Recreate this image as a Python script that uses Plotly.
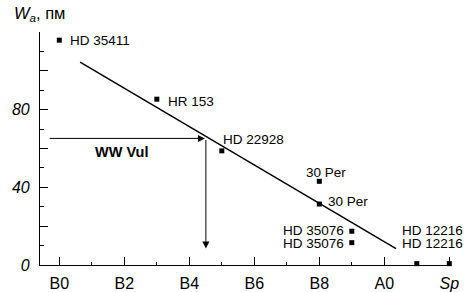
import plotly.graph_objects as go

# Spectral subclass index: B0=0 ... B9=9, A0=10, A1=11, Sp=12
star_names = ["HD 35411", "HR 153", "HD 22928", "30 Per", "30 Per",
              "HD 35076", "HD 35076", "HD 12216", "HD 12216"]
star_x = [0, 3, 5, 8, 8, 9, 9, 11, 12]
star_w = [115.8, 85.4, 58.8, 43.1, 31.4, 17.4, 11.5, 0.7, 0.7]

fit_x = [0.64, 10.36]
fit_w = [104.5, 8.4]

ww_vul_sp = 4.51
ww_vul_w = 65.2
arrow_start_x = -0.34
arrow_end_w = 8.5

x_tickvals = [0, 2, 4, 6, 8, 10, 12]
x_ticktext = ["B0", "B2", "B4", "B6", "B8", "A0", "<i>Sp</i>"]
y_tickvals = [0, 20, 40, 60, 80, 100, 120]
y_ticktext = ["<i>0</i>", " ", "<i>40</i>", " ", "<i>80</i>", " ", " "]

FONT = "Liberation Sans, Arial, sans-serif"

fig = go.Figure()
fig.add_trace(go.Scatter(x=fit_x, y=fit_w, mode="lines",
                         line=dict(color="black", width=1.5),
                         hoverinfo="skip", showlegend=False))
fig.add_trace(go.Scatter(x=star_x, y=star_w, mode="markers",
                         marker=dict(symbol="square", size=5, color="black"),
                         cliponaxis=False, showlegend=False))

# label placement (x in subclass units, y in pm, anchors)
label_pos = [
    (0.27, 115.8, "left"),
    (3.27, 84.2, "left"),
    (4.99, 64.8, "left"),
    (8.2, 47.6, "center"),
    (8.2, 32.7, "left"),
    (8.82, 17.6, "right"),
    (8.82, 10.9, "right"),
    (10.48, 18.0, "left"),
    (10.48, 10.9, "left"),
]
for name, (lx, ly, anc) in zip(star_names, label_pos):
    fig.add_annotation(x=lx, y=ly, text=name, showarrow=False,
                       xanchor=anc, yanchor="middle",
                       font=dict(family=FONT, size=13.5, color="black"))

# WW Vul arrows
fig.add_annotation(x=ww_vul_sp - 0.03, y=ww_vul_w, ax=arrow_start_x, ay=ww_vul_w,
                   xref="x", yref="y", axref="x", ayref="y", text="",
                   showarrow=True, arrowhead=2, arrowsize=1.4, arrowwidth=1,
                   arrowcolor="black", standoff=0)
fig.add_annotation(x=ww_vul_sp, y=arrow_end_w, ax=ww_vul_sp, ay=ww_vul_w,
                   xref="x", yref="y", axref="x", ayref="y", text="",
                   showarrow=True, arrowhead=2, arrowsize=1.4, arrowwidth=1,
                   arrowcolor="black", standoff=0)
fig.add_annotation(x=1.03, y=58.3, text="<b>WW Vul</b>", showarrow=False,
                   xanchor="left", yanchor="middle",
                   font=dict(family=FONT, size=14.5, color="black"))

# axis title
fig.add_annotation(xref="paper", yref="paper", x=-0.068, y=1.0, yshift=18,
                   text="<i>W<sub>a</sub></i>, пм", showarrow=False,
                   xanchor="left", yanchor="middle",
                   font=dict(family=FONT, size=16.5, color="black"))

fig.update_xaxes(range=[-0.594, 12.052], showline=True, linecolor="black", linewidth=1.2,
                 ticks="inside", ticklen=8, tickwidth=1.2, tickcolor="black",
                 tickvals=x_tickvals, ticktext=x_ticktext, automargin=False,
                 minor=dict(ticks="inside", ticklen=3, dtick=1, tick0=0,
                            tickcolor="black", tickwidth=1.2),
                 showgrid=False, zeroline=False, ticklabelstandoff=4,
                 tickfont=dict(family=FONT, size=16, color="black"))
fig.update_yaxes(range=[0, 120], showline=True, linecolor="black", linewidth=1.2,
                 ticks="inside", ticklen=8, tickwidth=1.2, tickcolor="black",
                 tickvals=y_tickvals, ticktext=y_ticktext, automargin=False,
                 minor=dict(ticks="inside", ticklen=4, dtick=10, tick0=0,
                            tickcolor="black", tickwidth=1.2),
                 showgrid=False, zeroline=False, ticklabelstandoff=6,
                 tickfont=dict(family=FONT, size=16, color="black"))

fig.update_layout(width=469, height=292,
                  margin=dict(l=40, r=18, t=32, b=27, autoexpand=False),
                  plot_bgcolor="white", paper_bgcolor="white", showlegend=False)
fig.write_html("out.html", config={"displayModeBar": False},
               post_script="document.body.style.margin='0';document.body.style.overflow='hidden';")
